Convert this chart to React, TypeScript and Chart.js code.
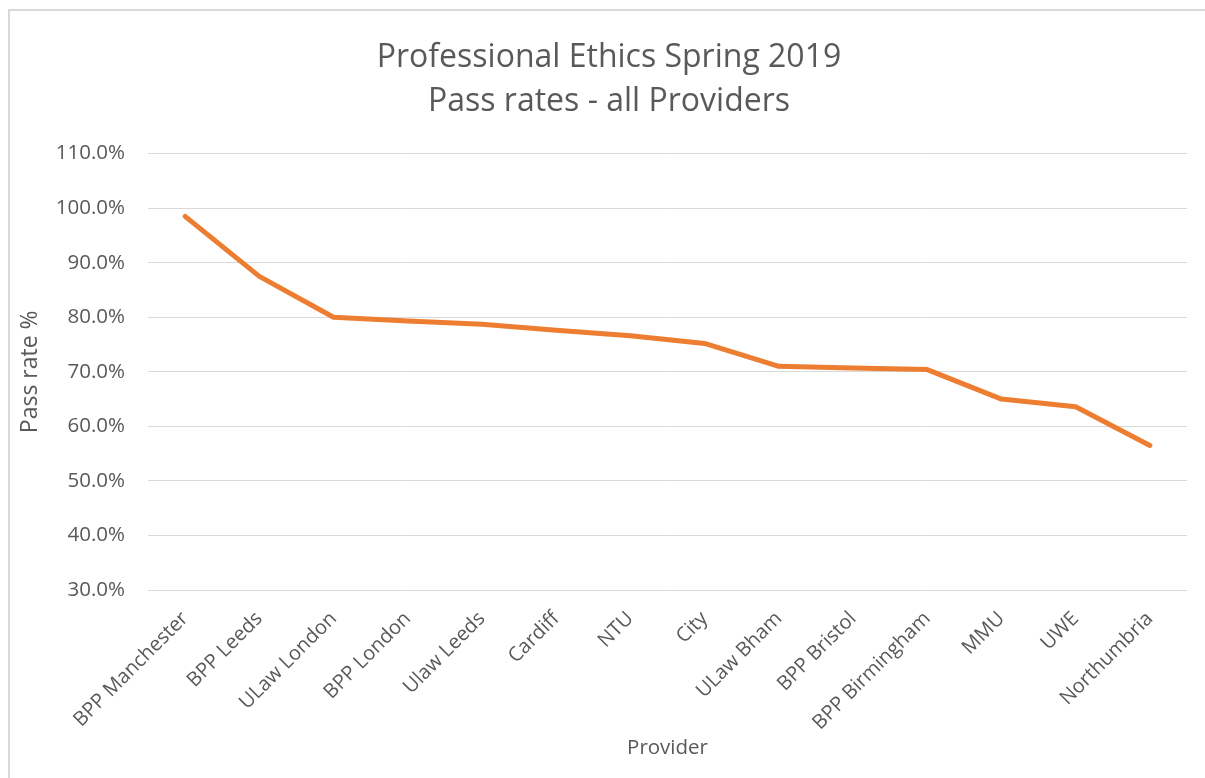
import React, { useEffect, useRef } from "react";
import { Chart, registerables } from "chart.js";

Chart.register(...registerables);

const providers = [
  "BPP Manchester",
  "BPP Leeds",
  "ULaw London",
  "BPP London",
  "Ulaw Leeds",
  "Cardiff",
  "NTU",
  "City",
  "ULaw Bham",
  "BPP Bristol",
  "BPP Birmingham",
  "MMU",
  "UWE",
  "Northumbria",
];

const passRates = [98.5, 87.5, 80.0, 79.3, 78.7, 77.6, 76.6, 75.2, 71.0, 70.7, 70.4, 65.0, 63.6, 56.5];

const titleLines = ["Professional Ethics Spring 2019", "Pass rates - all Providers"];
const yAxisTitle = "Pass rate %";
const xAxisTitle = "Provider";

const FONT = "'Open Sans', sans-serif";
const TEXT = "#595959";
const GRID = "#d9d9d9";

// Centre the chart title over the whole canvas rather than the padded layout box.
const centreTitle = {
  id: "centreTitle",
  afterLayout(chart: any) {
    const tb = chart.titleBlock;
    if (tb) tb.left += 21;
  },
};

export default function App() {
  const canvasRef = useRef<HTMLCanvasElement | null>(null);

  useEffect(() => {
    const canvas = canvasRef.current;
    if (!canvas) return;
    const chart = new Chart(canvas, {
      type: "line",
      data: {
        labels: providers,
        datasets: [
          {
            label: "Pass rate",
            data: passRates,
            borderColor: "#ED7D31",
            backgroundColor: "#ED7D31",
            borderWidth: 5,
            pointRadius: 0,
            pointHoverRadius: 0,
            borderCapStyle: "round",
            borderJoinStyle: "round",
            tension: 0,
          },
        ],
      },
      plugins: [centreTitle],
      options: {
        animation: false,
        responsive: true,
        maintainAspectRatio: false,
        layout: { padding: { left: 0, right: 18, top: 0, bottom: 0 } },
        plugins: {
          legend: { display: false },
          tooltip: { enabled: false },
          title: {
            display: true,
            text: titleLines,
            color: TEXT,
            font: { family: FONT, size: 32, weight: "normal", lineHeight: 1.4 },
            padding: { top: 24, bottom: 29 },
          },
        },
        scales: {
          x: {
            offset: true,
            grid: { display: false, drawTicks: false },
            border: { display: false },
            ticks: {
              autoSkip: false,
              maxRotation: 45,
              minRotation: 45,
              padding: 17,
              color: TEXT,
              font: { family: FONT, size: 20 },
            },
            title: {
              display: true,
              text: xAxisTitle,
              color: TEXT,
              font: { family: FONT, size: 20.5 },
              padding: { top: 0, bottom: 18 },
            },
            afterFit: (scale: any) => {
              scale.height = 188;
            },
          },
          y: {
            min: 30,
            max: 110,
            grid: { color: GRID, lineWidth: 1, drawTicks: false },
            border: { display: false },
            ticks: {
              stepSize: 10,
              padding: 23,
              color: TEXT,
              font: { family: FONT, size: 20.5 },
              callback: (v: any) => Number(v).toFixed(1) + "%",
            },
            title: {
              display: true,
              text: yAxisTitle,
              color: TEXT,
              font: { family: FONT, size: 23 },
              padding: { top: 7, bottom: 0 },
            },
            afterFit: (scale: any) => {
              scale.width = 138;
            },
          },
        },
      },
    });
    return () => chart.destroy();
  }, []);

  return (
    <div
      style={{
        position: "absolute",
        left: 8,
        top: 9,
        width: 1197,
        height: 769,
        boxSizing: "border-box",
        borderTop: `2px solid ${GRID}`,
        borderLeft: `2px solid ${GRID}`,
        background: "#fff",
      }}
    >
      <div style={{ position: "relative", width: 1195, height: 767 }}>
        <canvas ref={canvasRef} />
      </div>
    </div>
  );
}
